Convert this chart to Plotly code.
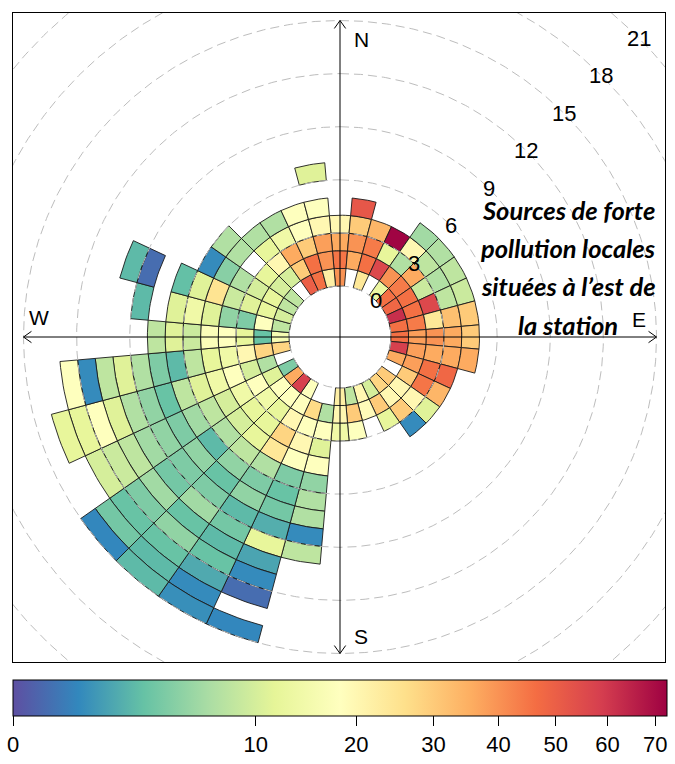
import numpy as np
import plotly.graph_objects as go

# ---------------- data ----------------
# wind-direction sectors (centre of 10 degree bins)
sector_deg = list(range(0, 360, 10))
# mean concentration per 1 m/s wind-speed bin (index 0 = 0-1 m/s), None = no data
d000 = [40, 45, 36, 20]
d010 = [None, 36, 40, 30, 52]
d020 = [24, 46, 44, 34]
d030 = [None, 56, 12, 72]
d040 = [13, 40, 7, 20, 6]
d050 = [46, 44, 36, 8, 7]
d060 = [48, 46, 9, 7, 8]
d070 = [62, 46, 56, 8, 9]
d080 = [46, 44, 24, 32, 30]
d090 = [46, 38, 40, 36, 30]
d100 = [58, 38, 36, 36, 36]
d110 = [36, 38, 46, 48]
d120 = [None, 30, 45, 34]
d130 = [30, 20, 20, 11]
d140 = [28, 20, 30, 0.8]
d150 = [10, 30, 12]
d160 = [20, 19]
d170 = [8, 30, 18]
d180 = [22, 20, 14]
d190 = [None, 7, 18, 11, 18, 5, 7, 7, 0.8, 8]
d200 = [None, 27, 18, 20, 18, 4, 3, 3.5, 2, 12, 1.6, 0.8, 0.2, None, 0.7]
d210 = [18, 18, 20, 28, 24, 7, 4, 5, 2.5, 3.5, 2.5, 3, 1.8, 0.8, 0.9]
d220 = [58, 18, 12, 12, 12, 8, 5, 3, 4, 6, 3, 5, 3, 2.5, 2.5]
d230 = [36, 18, 14, 12, 10, 7, 2.5, 5, 4, 3.5, 6, 4, 3, 3.5, 0.7]
d240 = [4, 11, 18, 14, 10, 8, 6, 4, 5, 6, 8, 9, 10]
d250 = [None, 7, 10, 18, 14, 11, 8, 3, 5, 7, 11, 18, 12, 12]
d260 = [28, 28, 20, 14, 12, 8, 2.5, 4, 7, 11, 8, 0.8, 18]
d270 = [16, 3, 12, 18, 17, 9, 11, 8]
d280 = [8, 18, 4, 5, 11, 14, 11, None, 2.5]
d290 = [10, 12, 11, 9, 25, 11, 2.8, None, 0.2, 2.5]
d300 = [8, 12, 10, 7, 4.5, 0.8]
d310 = [8, 10, 12, None, 7, 7]
d320 = [None, 10, 20, 12, 7]
d330 = [50, 30, 36, 14, 7]
d340 = [46, 46, 30, 18, 18]
d350 = [22, 40, 38, 20, 18, None, 11]

ring_ws = [0, 3, 6, 9, 12, 15, 18, 21]
ring_labels = ["0", "3", "6", "9", "12", "15", "18", "21"]
cbar_ticks = [0, 10, 20, 30, 40, 50, 60, 70]
cbar_labels = ["0", "10", "20", "30", "40", "50", "60", "70"]
vmax = 72.6
compass = ["N", "E", "S", "W"]
note_lines = ["Sources de forte", "pollution locales", "situées à l’est de", "la station"]

# --------------- helpers ---------------
by_sector = dict(zip(sector_deg, [d000, d010, d020, d030, d040, d050, d060, d070, d080,
                                  d090, d100, d110, d120, d130, d140, d150, d160, d170,
                                  d180, d190, d200, d210, d220, d230, d240, d250, d260,
                                  d270, d280, d290, d300, d310, d320, d330, d340, d350]))

spectral = ["#5E4FA2", "#3288BD", "#66C2A5", "#ABDDA4", "#E6F598", "#FFFFBF",
            "#FEE08B", "#FDAE61", "#F46D43", "#D53E4F", "#9E0142"]
cscale = [[i / 10, c] for i, c in enumerate(spectral)]


def hex2rgb(h):
    return np.array([int(h[i:i + 2], 16) for i in (1, 3, 5)], dtype=float)


rgbs = [hex2rgb(c) for c in spectral]


def colour(v):
    p = min(max(np.sqrt(v) / np.sqrt(vmax), 0), 1) * 10
    i = min(int(np.floor(p)), 9)
    f = p - i
    c = rgbs[i] * (1 - f) + rgbs[i + 1] * f
    return "rgb(%d,%d,%d)" % tuple(np.round(c))


OFF = 51 / 17.7          # radius of the central hole in wind-speed units
WID = 10                 # sector width (deg)

fig = go.Figure()

# cells
for a, vals in by_sector.items():
    th = np.radians(np.linspace(a - WID / 2, a + WID / 2, 9))
    for k, v in enumerate(vals):
        if v is None:
            continue
        r0, r1 = OFF + k, OFF + k + 1
        xs = np.concatenate([r1 * np.sin(th), r0 * np.sin(th[::-1]), [r1 * np.sin(th[0])]])
        ys = np.concatenate([r1 * np.cos(th), r0 * np.cos(th[::-1]), [r1 * np.cos(th[0])]])
        fig.add_trace(go.Scatter(x=xs, y=ys, mode="lines", fill="toself",
                                 fillcolor=colour(v), line=dict(color="#1a1a1a", width=0.9),
                                 hoverinfo="skip", showlegend=False))

# dashed rings
tt = np.radians(np.linspace(0, 360, 721))
for w in ring_ws:
    r = OFF + w
    fig.add_trace(go.Scatter(x=r * np.sin(tt), y=r * np.cos(tt), mode="lines",
                             line=dict(color="#BDBDBD", width=1, dash="9px,5px"),
                             hoverinfo="skip", showlegend=False))

# compass axes with open arrow heads
R = OFF + 15
AL, AW = 0.45, 0.32
for ang in [0, 90, 180, 270]:
    s, c = np.sin(np.radians(ang)), np.cos(np.radians(ang))
    tip = np.array([R * s, R * c])
    back = tip - AL * np.array([s, c])
    perp = np.array([c, -s]) * AW
    fig.add_trace(go.Scatter(x=[0, tip[0], None, back[0] + perp[0], tip[0], back[0] - perp[0]],
                             y=[0, tip[1], None, back[1] + perp[1], tip[1], back[1] - perp[1]],
                             mode="lines", line=dict(color="black", width=1),
                             hoverinfo="skip", showlegend=False))

# colour bar (dummy trace placed outside the visible range)
fig.add_trace(go.Scatter(
    x=[100], y=[100], mode="markers", hoverinfo="skip", showlegend=False,
    marker=dict(size=1, color=[0], colorscale=cscale, cmin=0, cmax=np.sqrt(vmax),
                showscale=True,
                colorbar=dict(orientation="h", x=(340 - 13) / 652, xanchor="center",
                              yref="container", y=(764 - 680) / 764, yanchor="top",
                              ypad=0, xpad=0,
                              len=654, lenmode="pixels", thickness=36, thicknessmode="pixels",
                              outlinewidth=1, outlinecolor="black",
                              tickvals=[np.sqrt(t) for t in cbar_ticks], ticktext=cbar_labels,
                              ticks="outside", ticklen=10, tickwidth=1, tickcolor="black",
                              tickfont=dict(family="Liberation Sans", size=22, color="black")))))

ann = []
for w, lab in zip(ring_ws, ring_labels):
    r = (OFF + w) / np.sqrt(2)
    ann.append(dict(x=r, y=r, text=lab, showarrow=False, xref="x", yref="y",
                    font=dict(family="Liberation Sans", size=22, color="black")))
for lab, (x, y) in zip(compass, [(1.2, 16.8), (16.9, 1.0), (1.2, -16.9), (-17.0, 1.1)]):
    ann.append(dict(x=x, y=y, text=lab, showarrow=False, xref="x", yref="y",
                    font=dict(family="Liberation Sans", size=21, color="black")))
for lab, y in zip(note_lines, [7.2, 5.02, 2.88, 0.7]):
    ann.append(dict(x=(568 - 340) / 17.7, y=y, text="<b><i>" + lab + "</i></b>",
                    showarrow=False, xref="x", yref="y", xanchor="center", yanchor="middle",
                    font=dict(family="Lato", size=25.5, color="black")))

ax = dict(showgrid=False, zeroline=False, showticklabels=False, ticks="",
          showline=True, mirror=True, linecolor="black", linewidth=1, fixedrange=True)
fig.update_layout(
    width=675, height=764, margin=dict(l=13, r=10, t=13, b=102),
    plot_bgcolor="white", paper_bgcolor="white",
    xaxis=dict(range=[-327 / 17.7, 325 / 17.7], **ax),
    yaxis=dict(range=[-325 / 17.7, 324 / 17.7], **ax),
    annotations=ann,
)

fig.write_html("out.html")
